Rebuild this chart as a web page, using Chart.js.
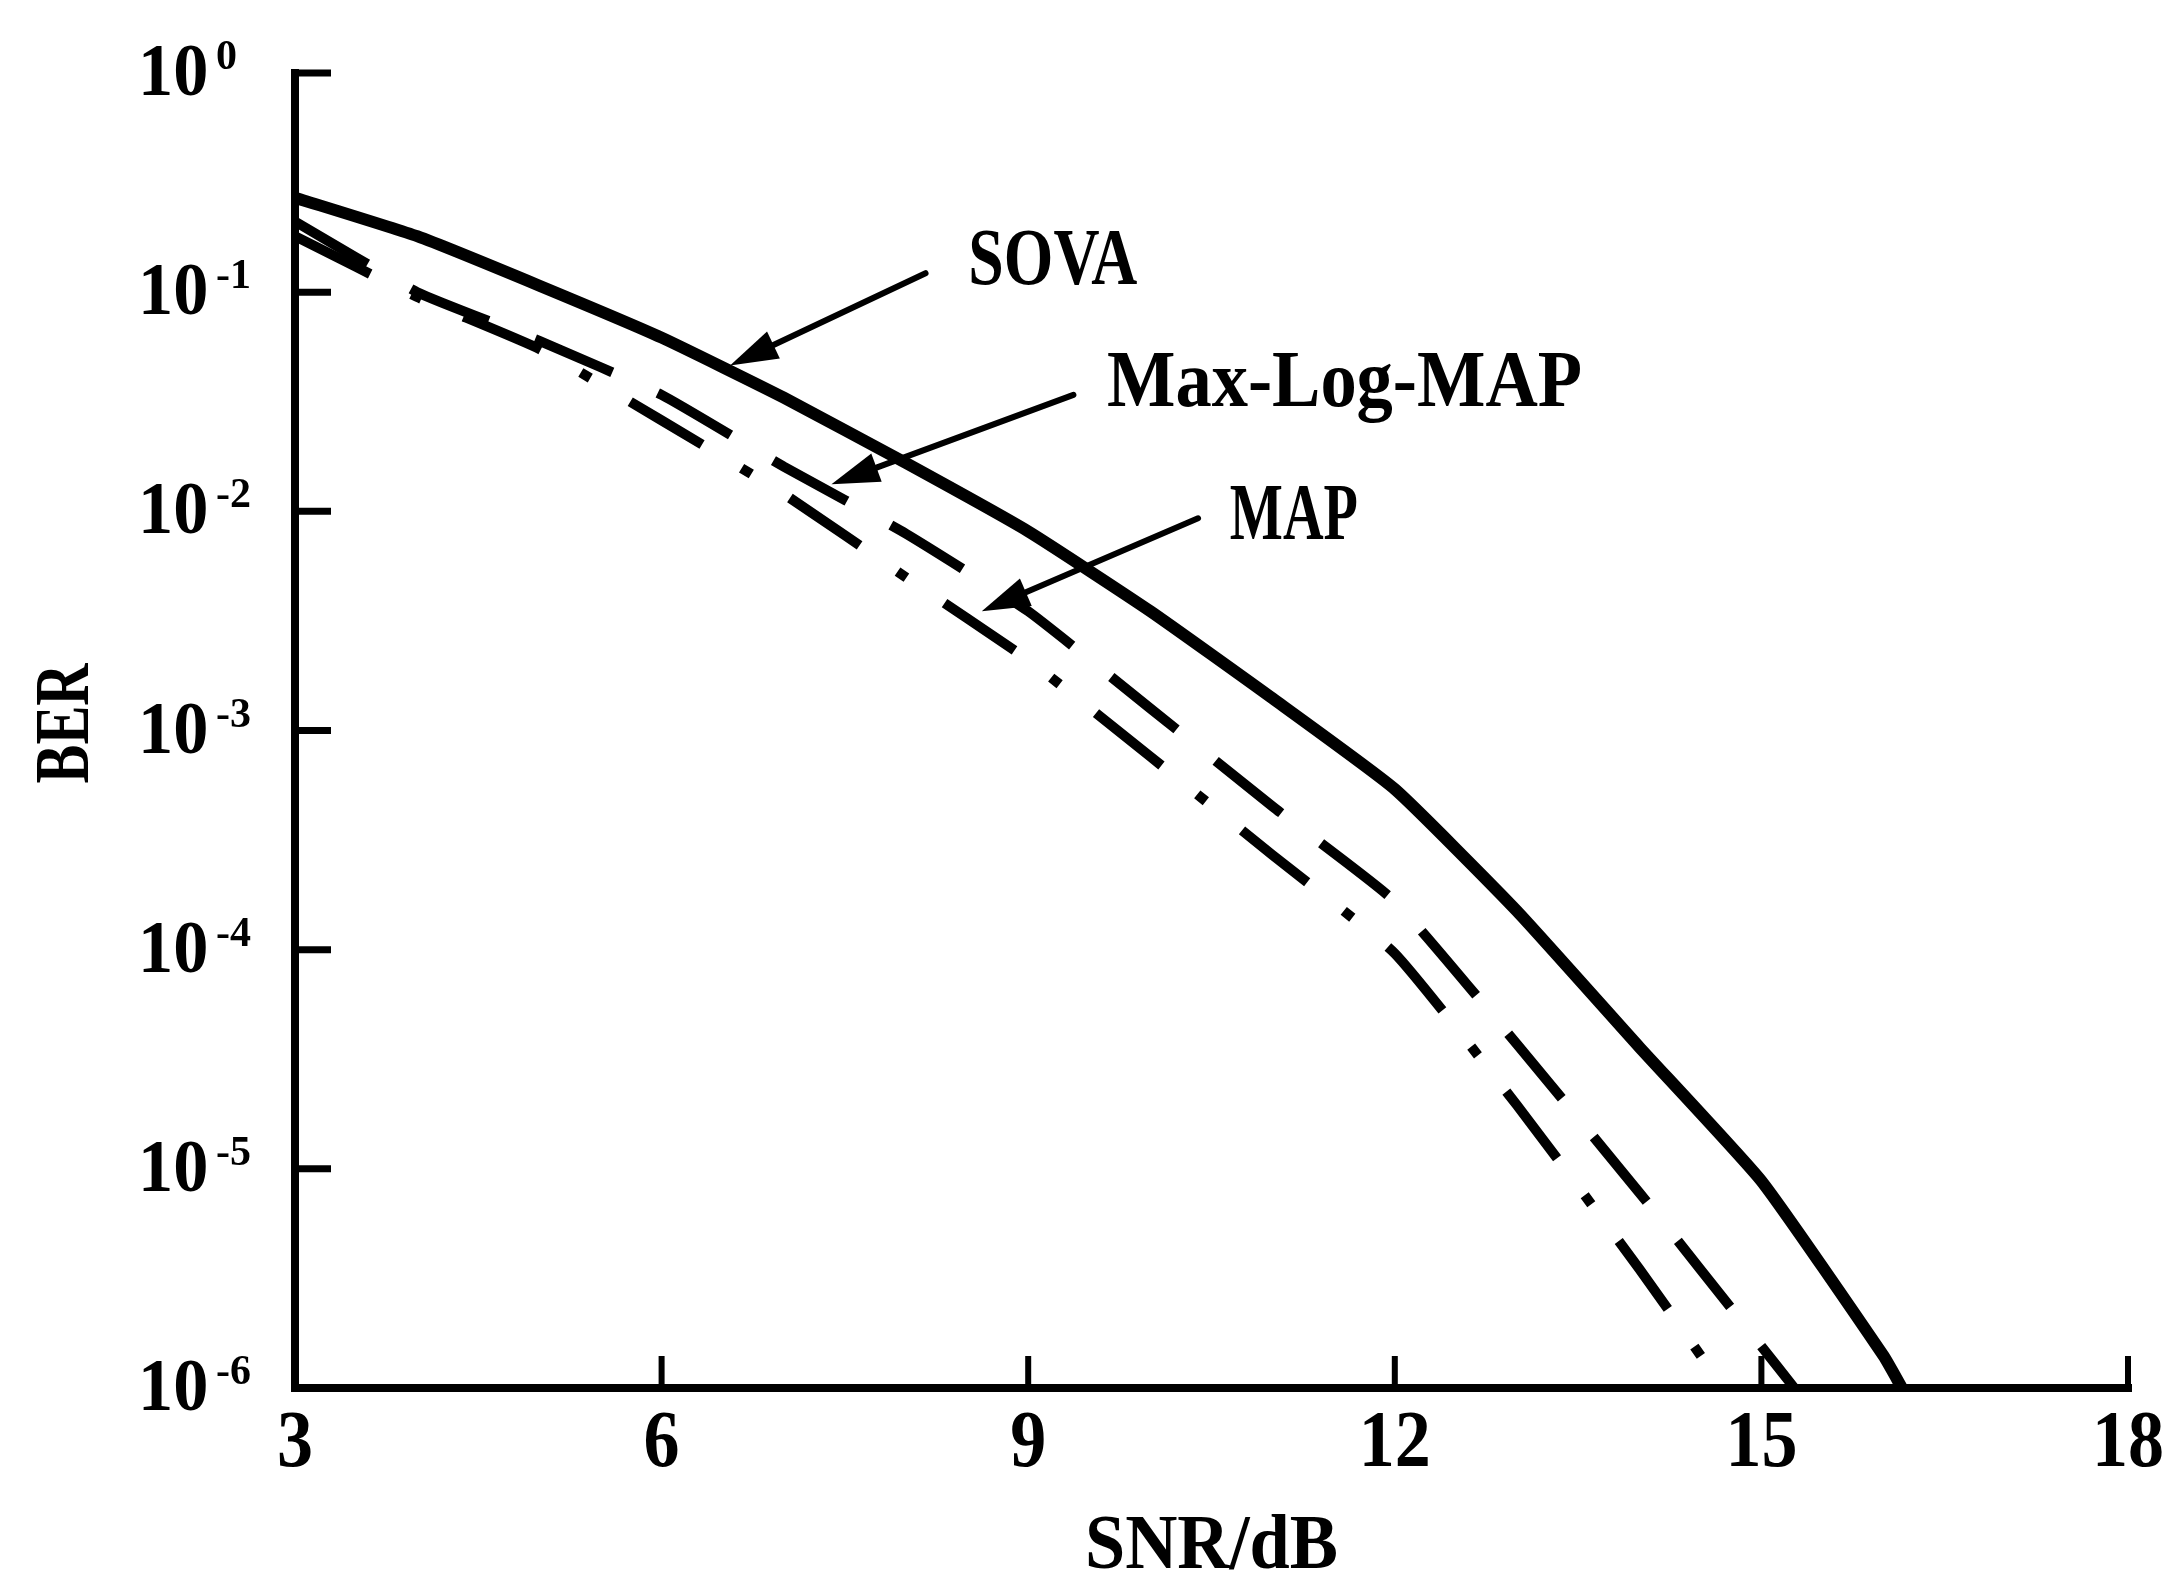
<!DOCTYPE html>
<html>
<head>
<meta charset="utf-8">
<script src="https://cdn.jsdelivr.net/npm/chart.js@4.4.1/dist/chart.umd.min.js"></script>
<style>
  html, body { margin: 0; padding: 0; background: #fff; }
  #wrap { width: 2172px; height: 1579px; background: #fff; }
</style>
</head>
<body>
<div id="wrap"><canvas id="c" width="2172" height="1579"></canvas></div>
<script>
// --- DATA --- //
const xTicks = [3, 6, 9, 12, 15, 18];
const yExps = [0, -1, -2, -3, -4, -5, -6];

const sovaSnr = [3, 4, 5, 6, 7, 8, 9, 10, 11, 12, 13, 14, 15, 16, 16.15];
const sovaBer = [0.27, 0.18, 0.107, 0.062, 0.033, 0.0166, 0.0081, 0.0035, 0.0014, 5.4e-4, 1.5e-4, 3.6e-5, 8.8e-6, 1.4e-6, 1e-6];

const maxLogSnr = [3, 4, 5, 6, 7, 8, 9, 10, 11, 12, 13, 14, 15, 15.27];
const maxLogBer = [0.21, 0.10, 0.060, 0.034, 0.016, 0.0079, 0.0035, 0.00126, 4.5e-4, 1.66e-4, 3.7e-5, 7.8e-6, 1.55e-6, 1e-6];

const mapSnr = [3, 4, 5, 6, 7, 8, 9, 10, 11, 12, 13, 14, 14.69];
const mapBer = [0.18, 0.095, 0.055, 0.026, 0.012, 0.005, 0.0021, 7.6e-4, 2.7e-4, 9.6e-5, 1.95e-5, 3.5e-6, 1e-6];

// curve names with where the arrow starts / points to (in SNR, BER)
const curveNames = ["SOVA", "Max-Log-MAP", "MAP"];
const arrowFrom = [[8.16, 0.122], [9.37, 0.034], [10.39, 0.0093]];
const arrowTo = [[6.56, 0.0463], [7.39, 0.0133], [8.62, 0.0035]];
const nameAt = [[8.51, 0.109], [9.645, 0.0301], [10.65, 0.00747]];
const nameWidth = [169, 475, 128];

const FONT = '"Liberation Serif", "Times New Roman", serif';

function pts(xs, ys) {
  return xs.map((x, i) => ({x: x, y: ys[i]}));
}

function drawText(ctx, txt, x, y, size, sx, align) {
  ctx.save();
  ctx.font = 'bold ' + size + 'px ' + FONT;
  ctx.textAlign = align || 'left';
  ctx.textBaseline = 'alphabetic';
  ctx.translate(x, y);
  ctx.scale(sx, 1);
  ctx.fillText(txt, 0, 0);
  ctx.restore();
}

function fitText(ctx, txt, x, y, size, width, align) {
  ctx.font = 'bold ' + size + 'px ' + FONT;
  const w = ctx.measureText(txt).width;
  drawText(ctx, txt, x, y, size, width / w, align);
}

function arrow(ctx, x1, y1, x2, y2) {
  const a = Math.atan2(y2 - y1, x2 - x1);
  const hl = 48, hw = 15;
  const bx = x2 - hl * Math.cos(a), by = y2 - hl * Math.sin(a);
  ctx.lineWidth = 6;
  ctx.beginPath(); ctx.moveTo(x1, y1); ctx.lineTo(bx, by); ctx.stroke();
  ctx.beginPath();
  ctx.moveTo(x2, y2);
  ctx.lineTo(bx + hw * Math.sin(a), by - hw * Math.cos(a));
  ctx.lineTo(bx - hw * Math.sin(a), by + hw * Math.cos(a));
  ctx.closePath(); ctx.fill();
}

const axesPlugin = {
  id: 'axes',
  afterDatasetsDraw(chart) {
    const {ctx, scales: {x, y}, chartArea} = chart;
    const x0 = x.getPixelForValue(3), x1 = x.getPixelForValue(18);
    const yTop = y.getPixelForValue(1), yBot = y.getPixelForValue(1e-6);
    ctx.save();
    ctx.strokeStyle = '#000';
    ctx.fillStyle = '#000';

    // axis lines
    ctx.lineWidth = 8;
    ctx.lineCap = 'square';
    ctx.beginPath();
    ctx.moveTo(x0, yTop); ctx.lineTo(x0, yBot); ctx.lineTo(x1, yBot);
    ctx.stroke();

    // y ticks (inward) and labels 10^n
    ctx.lineCap = 'butt';
    yExps.forEach(e => {
      const py = y.getPixelForValue(Math.pow(10, e));
      if (e > -6) {
        ctx.lineWidth = 7;
        ctx.beginPath(); ctx.moveTo(x0, py); ctx.lineTo(x0 + 36, py); ctx.stroke();
      }
      drawText(ctx, '10', x0 - 157, py + 22, 74, 0.95, 'left');
      drawText(ctx, e === 0 ? '0' : '-' + (-e), x0 - 79, py - 4, 42, 1, 'left');
    });

    // x ticks (inward) and labels
    xTicks.forEach(v => {
      const px = x.getPixelForValue(v);
      if (v > 3) {
        ctx.lineWidth = 6;
        ctx.beginPath(); ctx.moveTo(px, yBot); ctx.lineTo(px, yBot - 32); ctx.stroke();
      }
      drawText(ctx, String(v), px, yBot + 78, 80, 0.9, 'center');
    });

    // axis titles
    fitText(ctx, 'SNR/dB', (x0 + x1) / 2, 1568, 78, 253, 'center');
    ctx.save();
    ctx.translate(88, (chartArea.top + chartArea.bottom) / 2 - 7);
    ctx.rotate(-Math.PI / 2);
    fitText(ctx, 'BER', 0, 0, 78, 120, 'center');
    ctx.restore();

    // curve names with arrows
    ctx.lineCap = 'round';
    curveNames.forEach((n, i) => {
      arrow(ctx,
        x.getPixelForValue(arrowFrom[i][0]), y.getPixelForValue(arrowFrom[i][1]),
        x.getPixelForValue(arrowTo[i][0]), y.getPixelForValue(arrowTo[i][1]));
      fitText(ctx, n, x.getPixelForValue(nameAt[i][0]), y.getPixelForValue(nameAt[i][1]), 80, nameWidth[i], 'left');
    });
    ctx.restore();
  }
};

new Chart(document.getElementById('c'), {
  type: 'line',
  data: {
    datasets: [
      {label: 'SOVA', data: pts(sovaSnr, sovaBer), borderColor: '#000', borderWidth: 12,
       pointRadius: 0, tension: 0.15, borderJoinStyle: 'round'},
      {label: 'Max-Log-MAP', data: pts(maxLogSnr, maxLogBer), borderColor: '#000', borderWidth: 10,
       borderDash: [84, 50], pointRadius: 0, tension: 0.15},
      {label: 'MAP', data: pts(mapSnr, mapBer), borderColor: '#000', borderWidth: 10,
       borderDash: [84, 46, 11, 46], pointRadius: 0, tension: 0.15}
    ]
  },
  options: {
    responsive: false,
    animation: false,
    devicePixelRatio: 1,
    layout: {padding: {left: 295, right: 44, top: 73, bottom: 191}},
    plugins: {legend: {display: false}, tooltip: {enabled: false}},
    scales: {
      x: {type: 'linear', min: 3, max: 18, display: false},
      y: {type: 'logarithmic', min: 1e-6, max: 1, display: false}
    }
  },
  plugins: [axesPlugin]
});
</script>
</body>
</html>
